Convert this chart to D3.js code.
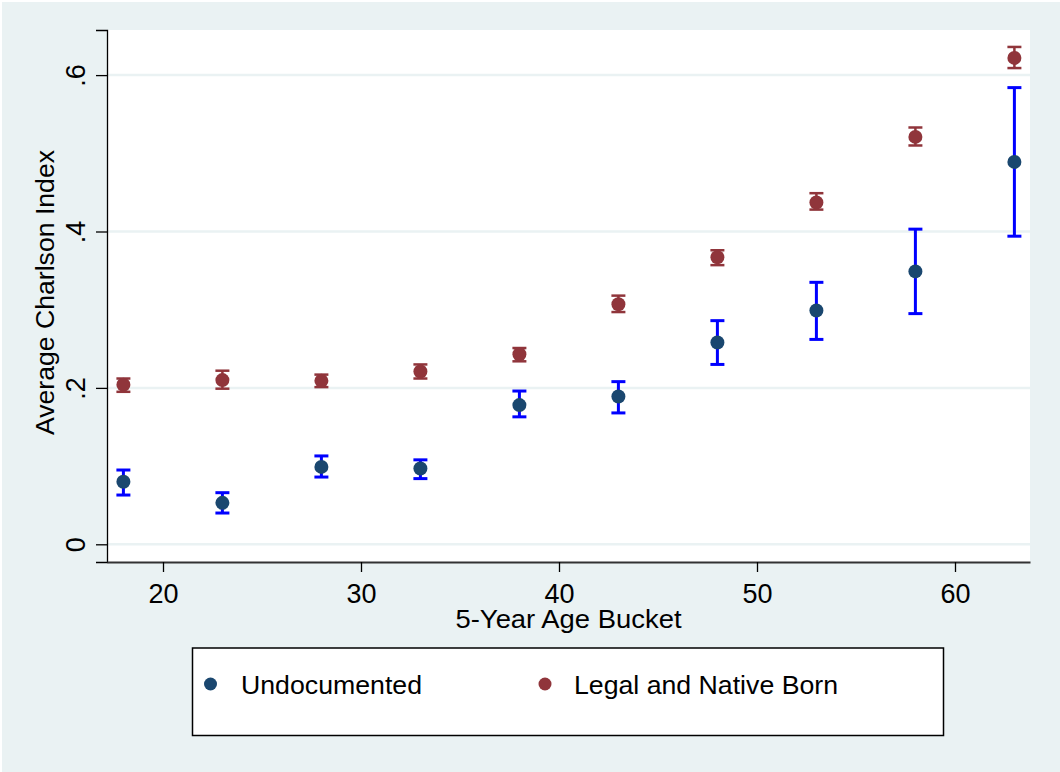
<!DOCTYPE html>
<html>
<head>
<meta charset="utf-8">
<script src="https://cdn.jsdelivr.net/npm/d3@7"></script>
<style>
  body { margin: 0; background: #fff; }
  text { font-family: "Liberation Sans", Arial, sans-serif; fill: #000; }
</style>
</head>
<body>
<svg id="chart"></svg>
<script>
// 5-year age buckets (x positions)
const ages = [18, 23, 28, 33, 38, 43, 48, 53, 58, 63];

// Undocumented: mean and CI
const undocMean = [0.080, 0.053, 0.099, 0.097, 0.178, 0.189, 0.258, 0.299, 0.349, 0.489];
const undocHi   = [0.095, 0.066, 0.113, 0.108, 0.196, 0.208, 0.286, 0.335, 0.403, 0.584];
const undocLo   = [0.063, 0.040, 0.086, 0.084, 0.163, 0.168, 0.230, 0.262, 0.295, 0.394];

// Legal and native born: mean and CI
const legalMean = [0.204, 0.210, 0.209, 0.221, 0.243, 0.307, 0.367, 0.437, 0.521, 0.622];
const legalHi   = [0.212, 0.222, 0.217, 0.230, 0.251, 0.318, 0.376, 0.449, 0.533, 0.636];
const legalLo   = [0.195, 0.199, 0.201, 0.212, 0.234, 0.297, 0.357, 0.428, 0.510, 0.609];

const xTicks = [20, 30, 40, 50, 60];
const yTicks = [0, 0.2, 0.4, 0.6];
const yTickLabels = ["0", ".2", ".4", ".6"];
const seriesNames = ["Undocumented", "Legal and Native Born"];

const W = 1060, H = 772;
const plot = {left: 107, right: 1030, top: 30, bottom: 562};
const bg = "#EAF2F3";
const navy = "#1A476F", maroon = "#90353B";

const svg = d3.select("#chart").attr("width", W).attr("height", H);

svg.append("rect").attr("x", 2).attr("y", 2).attr("width", W - 2).attr("height", H - 2).attr("fill", bg);
svg.append("rect")
    .attr("x", plot.left).attr("y", plot.top)
    .attr("width", plot.right - plot.left).attr("height", plot.bottom - plot.top)
    .attr("fill", "#fff");

// scales: 20 -> 163, 60 -> 955 ; 0 -> 544.3, .6 -> 75
const x = d3.scaleLinear()
    .domain([20 - (163 - plot.left) / 19.8, 20 + (plot.right - 163) / 19.8])
    .range([plot.left, plot.right]);
const y = d3.scaleLinear()
    .domain([-(plot.bottom - 544.3) / 782, (544.3 - plot.top) / 782])
    .range([plot.bottom, plot.top]);

// gridlines
svg.append("g").selectAll("line").data(yTicks).join("line")
    .attr("x1", plot.left).attr("x2", plot.right)
    .attr("y1", d => y(d)).attr("y2", d => y(d))
    .attr("stroke", bg).attr("stroke-width", 2.5);

// y axis
const yAxis = svg.append("g").attr("transform", `translate(${plot.left},0)`)
    .call(d3.axisLeft(y).tickValues(yTicks).tickSize(11).tickFormat((d, i) => yTickLabels[i]));
yAxis.select(".domain").attr("stroke", "#000").attr("stroke-width", 1.3);
yAxis.selectAll(".tick line").attr("stroke", "#000").attr("stroke-width", 1.3);
yAxis.selectAll(".tick text")
    .attr("font-size", 27).attr("x", 0).attr("y", 0).attr("dy", null)
    .attr("text-anchor", "middle")
    .attr("transform", "translate(-22,0) rotate(-90)")
    .style("font-family", "Liberation Sans, Arial, sans-serif");

// x axis
const xAxis = svg.append("g").attr("transform", `translate(0,${plot.bottom})`)
    .call(d3.axisBottom(x).tickValues(xTicks).tickSize(10).tickPadding(12).tickSizeOuter(0));
xAxis.select(".domain").attr("stroke", "#333").attr("stroke-width", 2.2);
xAxis.selectAll(".tick line").attr("stroke", "#000").attr("stroke-width", 1.3);
xAxis.selectAll(".tick text").attr("font-size", 27).attr("dy", null).attr("y", 41)
    .style("font-family", "Liberation Sans, Arial, sans-serif");

// axis titles
svg.append("text")
    .attr("x", (plot.left + plot.right) / 2).attr("y", 628)
    .attr("text-anchor", "middle").attr("font-size", 26)
    .attr("textLength", 226).attr("lengthAdjust", "spacingAndGlyphs")
    .text("5-Year Age Bucket");
svg.append("text")
    .attr("transform", `translate(54,${292.5}) rotate(-90)`)
    .attr("text-anchor", "middle").attr("font-size", 26)
    .attr("textLength", 285).attr("lengthAdjust", "spacingAndGlyphs")
    .text("Average Charlson Index");

// series
const series = [
  {mean: undocMean, lo: undocLo, hi: undocHi, dot: navy, bar: "#0000FF", bw: 3},
  {mean: legalMean, lo: legalLo, hi: legalHi, dot: maroon, bar: maroon, bw: 2.5}
];
const capHalf = 7;

series.slice().reverse().forEach(s => {
  const g = svg.append("g");
  const pts = ages.map((a, i) => ({a, m: s.mean[i], lo: s.lo[i], hi: s.hi[i]}));
  g.selectAll(".v").data(pts).join("line")
      .attr("x1", d => x(d.a)).attr("x2", d => x(d.a))
      .attr("y1", d => y(d.lo)).attr("y2", d => y(d.hi))
      .attr("stroke", s.bar).attr("stroke-width", s.bw);
  ["lo", "hi"].forEach(k => {
    g.selectAll(".c" + k).data(pts).join("line")
        .attr("x1", d => x(d.a) - capHalf).attr("x2", d => x(d.a) + capHalf)
        .attr("y1", d => y(d[k])).attr("y2", d => y(d[k]))
        .attr("stroke", s.bar).attr("stroke-width", s.bw);
  });
  g.selectAll("circle").data(pts).join("circle")
      .attr("cx", d => x(d.a)).attr("cy", d => y(d.m)).attr("r", 7)
      .attr("fill", s.dot);
});

// legend
const leg = svg.append("g");
leg.append("rect").attr("x", 192.5).attr("y", 648).attr("width", 751).attr("height", 87.5)
    .attr("fill", "#fff").attr("stroke", "#000").attr("stroke-width", 1.5);
const legItems = [
  {name: seriesNames[0], cx: 210.5, tx: 241, tl: 181, color: navy},
  {name: seriesNames[1], cx: 545, tx: 574, tl: 264, color: maroon}
];
legItems.forEach(d => {
  leg.append("circle").attr("cx", d.cx).attr("cy", 684).attr("r", 6.5).attr("fill", d.color);
  leg.append("text").attr("x", d.tx).attr("y", 693.5).attr("font-size", 26)
      .attr("textLength", d.tl).attr("lengthAdjust", "spacingAndGlyphs")
      .text(d.name);
});
</script>
</body>
</html>
